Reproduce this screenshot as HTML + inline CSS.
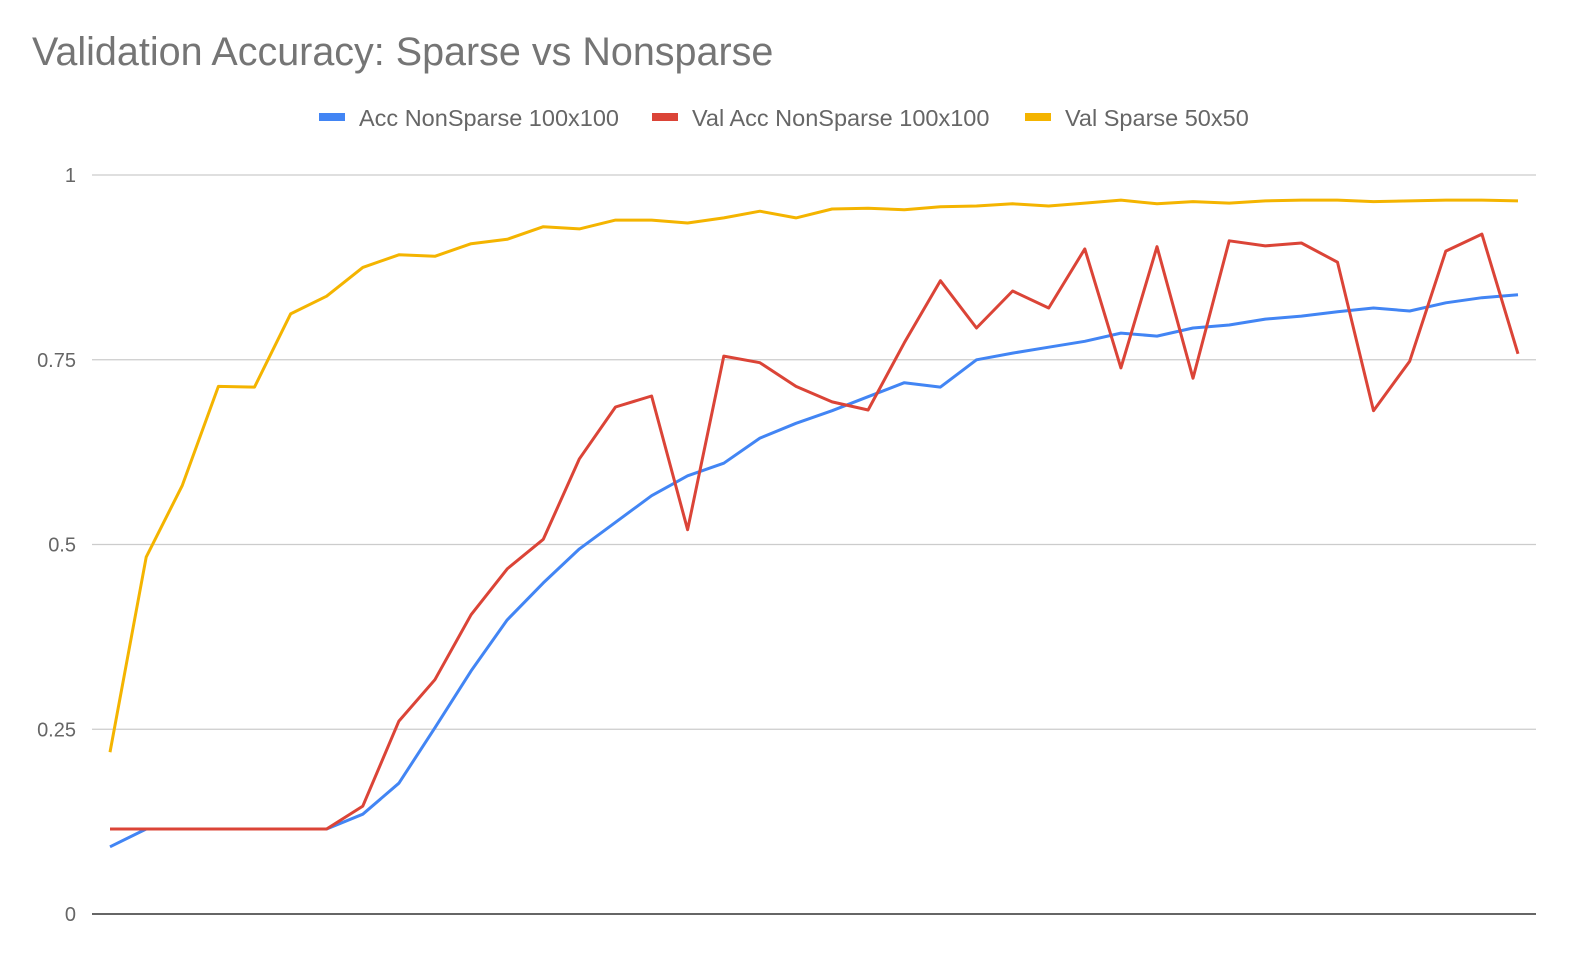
<!DOCTYPE html>
<html><head><meta charset="utf-8"><style>
html,body{margin:0;padding:0;background:#fff;}
svg{display:block;font-family:"Liberation Sans",Arial,sans-serif;}
</style></head><body>
<svg id="chart" width="1578" height="968" viewBox="0 0 1578 968">
<text x="32" y="65" font-size="39.5" fill="#757575">Validation Accuracy: Sparse vs Nonsparse</text>
<g id="legend"></g>
<g id="grid"></g>
<g id="yticks"></g>
<line x1="92" x2="1536" y1="914" y2="914" stroke="#333" stroke-width="1.5"/>
<g id="series"></g>
</svg>
<script>
const yTicks=[0,0.25,0.5,0.75,1];
const yTickLabels=["0","0.25","0.5","0.75","1"];
const seriesNames=["Acc NonSparse 100x100","Val Acc NonSparse 100x100","Val Sparse 50x50"];
const accNonSparse=[0.091,0.115,0.115,0.115,0.115,0.115,0.115,0.135,0.177,0.252,0.329,0.398,0.448,0.494,0.530,0.566,0.593,0.610,0.644,0.664,0.681,0.700,0.719,0.713,0.750,0.759,0.767,0.775,0.786,0.782,0.793,0.797,0.805,0.809,0.815,0.820,0.816,0.827,0.834,0.838];
const valAccNonSparse=[0.115,0.115,0.115,0.115,0.115,0.115,0.115,0.146,0.261,0.317,0.405,0.467,0.507,0.616,0.686,0.701,0.520,0.755,0.746,0.714,0.693,0.682,0.773,0.857,0.793,0.843,0.820,0.900,0.739,0.903,0.725,0.911,0.904,0.908,0.882,0.681,0.748,0.897,0.920,0.758];
const valSparse=[0.219,0.483,0.580,0.714,0.713,0.812,0.836,0.875,0.892,0.890,0.907,0.913,0.930,0.927,0.939,0.939,0.935,0.942,0.951,0.942,0.954,0.955,0.953,0.957,0.958,0.961,0.958,0.962,0.966,0.961,0.964,0.962,0.965,0.966,0.966,0.964,0.965,0.966,0.966,0.965];
const colors=["#4285f4","#db4437","#f4b400"];
const NS="http://www.w3.org/2000/svg";
const L=92,R=1536,T=175,B=914;
const n=valSparse.length;
function xs(i){return L+(R-L)/n*(i+0.5);}
function ys(v){return B-(B-T)*v;}
function mk(t,a,p){const e=document.createElementNS(NS,t);for(const k in a)e.setAttribute(k,a[k]);p.appendChild(e);return e;}
const grid=document.getElementById('grid'),yt=document.getElementById('yticks');
yTicks.forEach((v,i)=>{
  if(v>0){const g=mk('line',{x1:L,x2:R,y1:ys(v),y2:ys(v),stroke:'#ccc','stroke-width':1.3},grid);
  
  }
  const t=mk('text',{x:76,y:ys(v)+7,'text-anchor':'end','font-size':20,fill:'#666'},yt);
  t.textContent=yTickLabels[i];
  
  
});
const sg=document.getElementById('series');
[accNonSparse,valAccNonSparse,valSparse].forEach((d,s)=>{
  const pts=d.map((v,i)=>xs(i).toFixed(1)+','+ys(v).toFixed(1)).join(' ');
  const p=mk('polyline',{points:pts,fill:'none',stroke:colors[s],'stroke-width':3,'stroke-linejoin':'round'},sg);
  
  
});
const lg=document.getElementById('legend');
const lx=[319,652,1025];
seriesNames.forEach((nm,s)=>{
  const g=mk('g',{},lg);
  
  
  mk('rect',{x:lx[s],y:113,width:26,height:8,fill:colors[s]},g);
  const t=mk('text',{x:lx[s]+40,y:126,'font-size':23.5,fill:'#666'},g);
  t.textContent=nm;
});
</script>
</body></html>
